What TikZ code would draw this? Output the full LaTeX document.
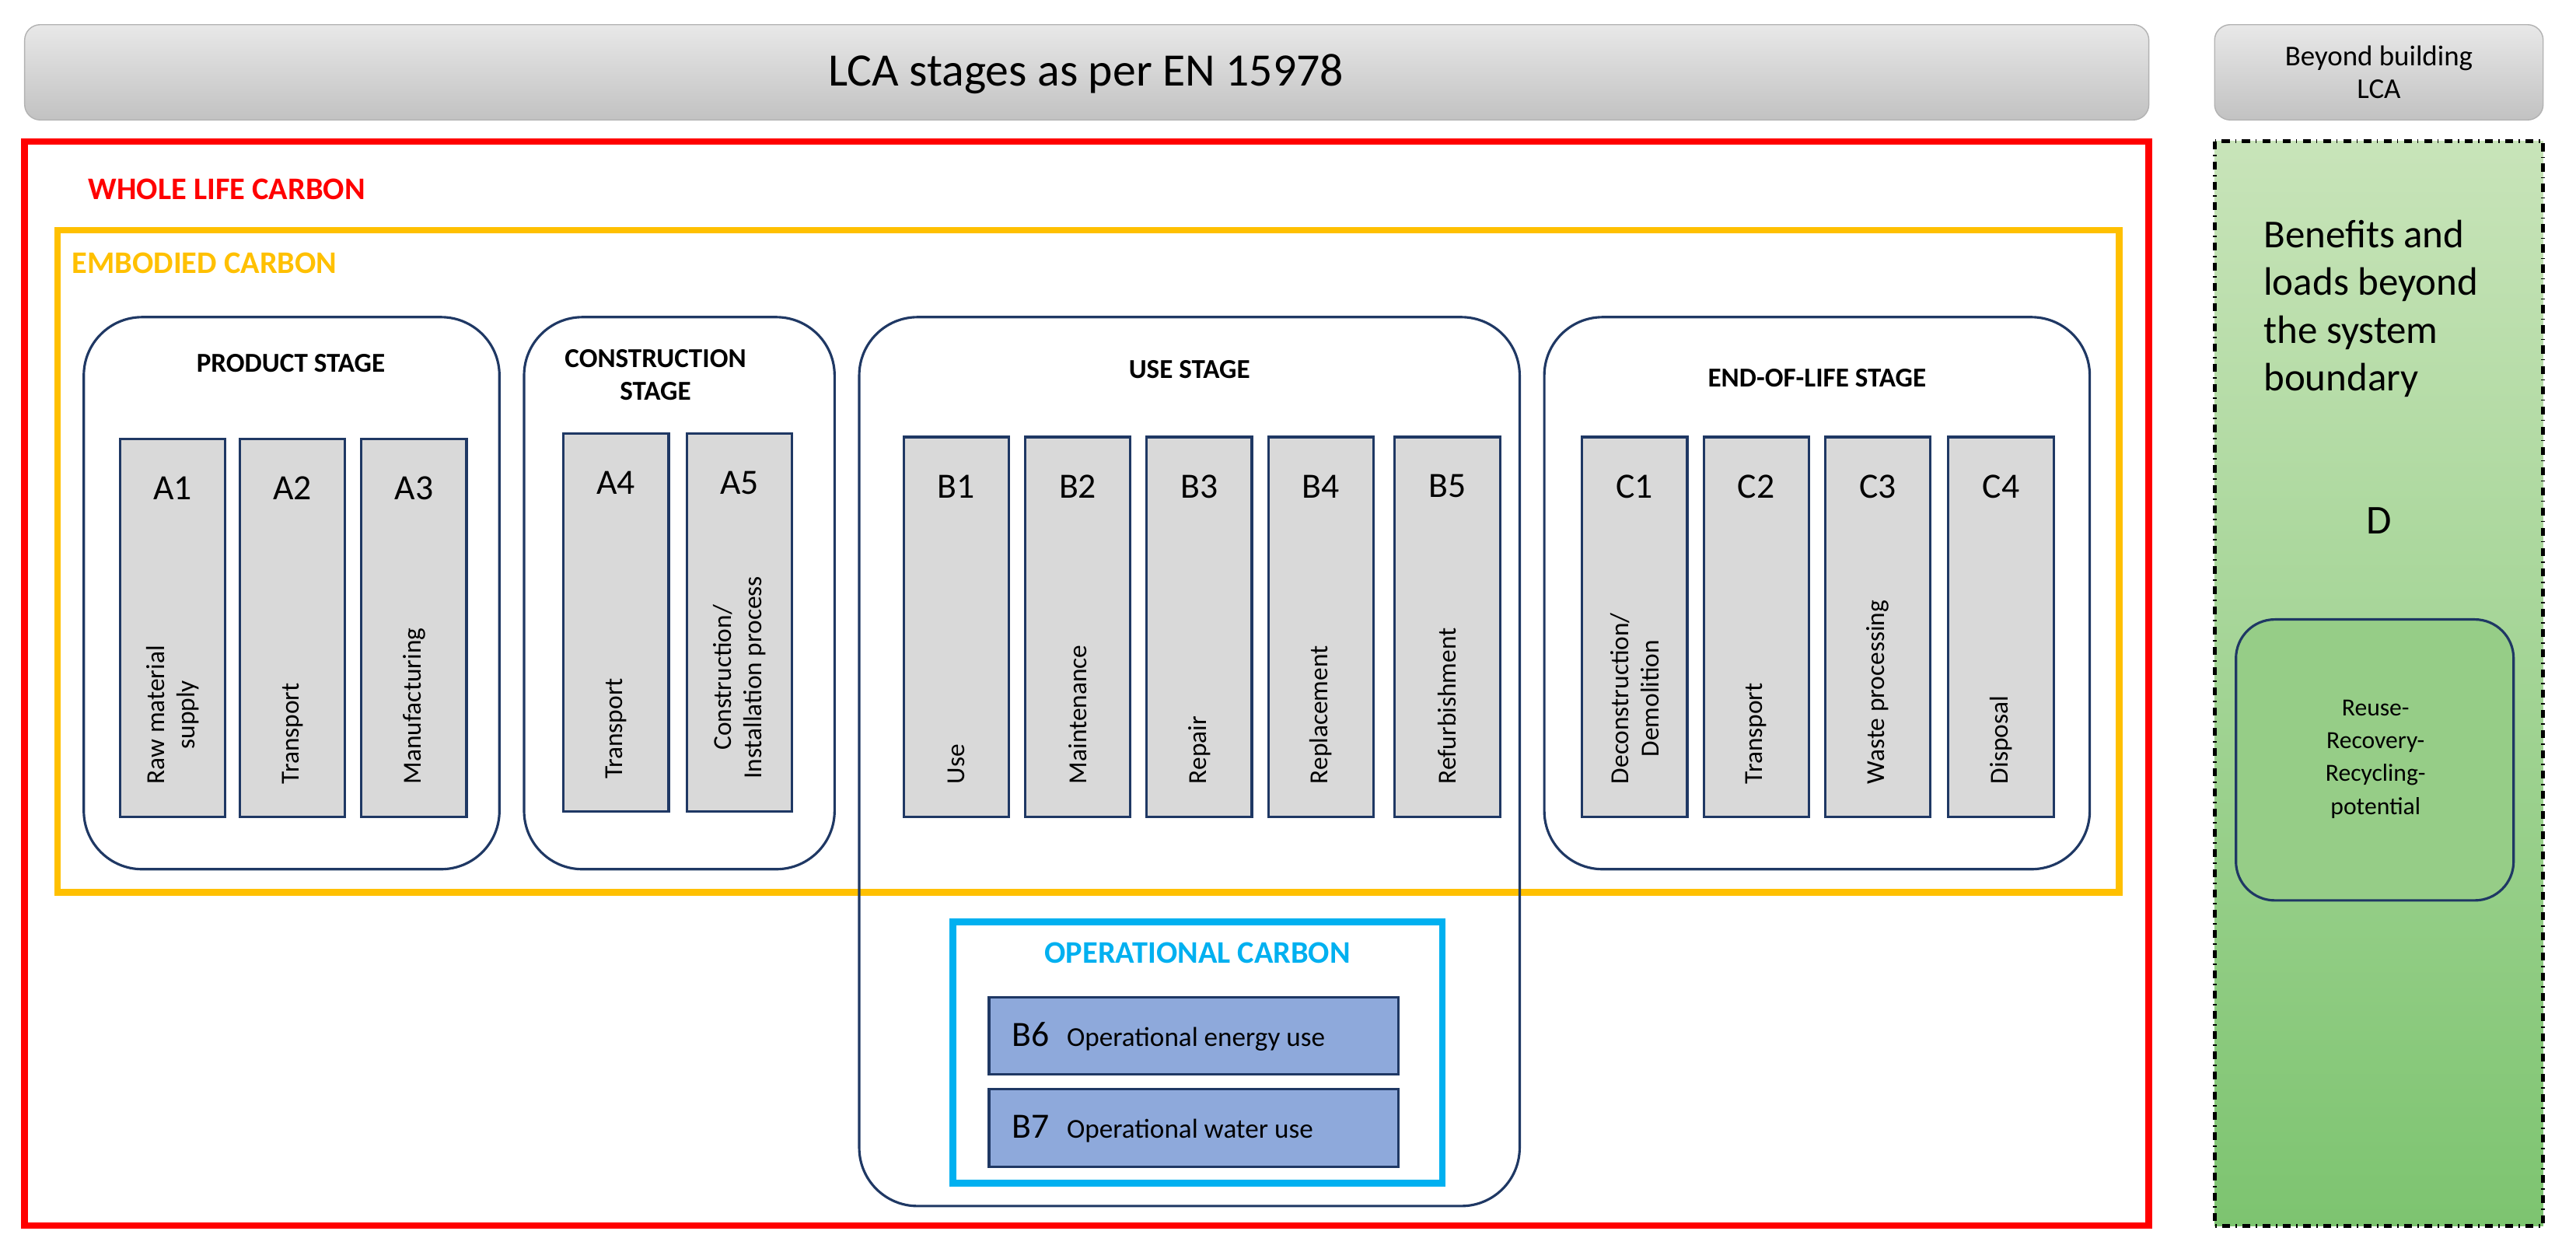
\documentclass[tikz,border=0pt]{standalone}
\usepackage{fontspec}
\setmainfont{Carlito}
\definecolor{frame}{RGB}{31,56,100}
\definecolor{cellgray}{RGB}{217,217,217}
\definecolor{bluecell}{RGB}{142,169,219}
\definecolor{wlc}{RGB}{255,0,0}
\definecolor{ec}{RGB}{255,192,0}
\definecolor{oc}{RGB}{0,176,240}
\tikzset{
  stagebox/.style={draw=frame, line width=0.9pt, rounded corners=0.75cm},
  cell/.style={draw=frame, line width=0.9pt, fill=cellgray},
  cellid/.style={font=\fontsize{13}{13}\selectfont},
  celltext/.style={rotate=90, anchor=west, align=center, font=\fontsize{9.5}{11}\selectfont},
  stagetitle/.style={font=\bfseries\fontsize{10}{12}\selectfont, align=center},
  header/.style={draw=gray!60, rounded corners=0.2cm, top color=gray!18, bottom color=gray!48}
}
\begin{document}
\begin{tikzpicture}[x=0.02113cm, y=-0.02113cm]
  \useasboundingbox (0,0) rectangle (1568,766);
  % headers
  \draw[header] (15,15) rectangle (1308,73);
  \node (lcahead) at (661,45) {\fontsize{17}{17}\selectfont LCA stages as per EN 15978};
  \draw[header] (1348,15) rectangle (1548,73);
  \node[align=center, font=\fontsize{10.5}{12}\selectfont] (beyondhead) at (1448,44) {Beyond building\\LCA};
  % module D
  \draw[dash dot, line width=1.4pt, top color={rgb,255:red,200;green,228;blue,185}, bottom color={rgb,255:red,125;green,196;blue,112}] (1348,86) rectangle (1548,746);
  \node[align=left, anchor=north west, font=\fontsize{14.5}{17.5}\selectfont] (benefits) at (1372,128) {Benefits and\\loads beyond\\the system\\boundary};
  \node[font=\fontsize{15}{15}\selectfont] (modd) at (1448,317) {D};
  \draw[stagebox, rounded corners=0.5cm, fill={rgb,255:red,150;green,205;blue,135}] (1361,377) rectangle (1530,548);
  \node[align=center, font=\fontsize{9}{12}\selectfont] (reuse) at (1446,462) {Reuse-\\Recovery-\\Recycling-\\potential};
  % carbon boundaries
  \draw[wlc, line width=2.4pt] (15,86) rectangle (1308,746);
  \node[wlc, anchor=west, font=\bfseries\fontsize{11.5}{12}\selectfont] (wlctext) at (48,115) {WHOLE LIFE CARBON};
  \draw[ec, line width=2.4pt] (35,140) rectangle (1290,543);
  \node[ec, anchor=west, font=\bfseries\fontsize{11.5}{12}\selectfont] (ectext) at (38,160) {EMBODIED CARBON};
  % stages
  \draw[stagebox] (51,193) rectangle (304,529);
  \node[stagetitle] (prod) at (177,221) {PRODUCT STAGE};
  \draw[stagebox] (319,193) rectangle (508,529);
  \node[stagetitle] (constr) at (399,228) {CONSTRUCTION\\STAGE};
  \draw[stagebox] (523,193) rectangle (925,734);
  \node[stagetitle] (use) at (724,225) {USE STAGE};
  \draw[stagebox] (940,193) rectangle (1272,529);
  \node[stagetitle] (eol) at (1106,230) {END-OF-LIFE STAGE};
  % modules
  \foreach \xa/\ya/\yb/\id/\txt in {
      73/267/497/A1/{Raw material\\supply}, 146/267/497/A2/Transport, 220/267/497/A3/Manufacturing,
      343/264/494/A4/Transport, 418/264/494/A5/{Construction/\\Installation process},
      550/266/497/B1/Use, 624/266/497/B2/Maintenance, 698/266/497/B3/Repair,
      772/266/497/B4/Replacement, 849/266/497/B5/Refurbishment,
      963/266/497/C1/{Deconstruction/\\Demolition}, 1037/266/497/C2/Transport,
      1111/266/497/C3/{Waste processing}, 1186/266/497/C4/Disposal} {
    \draw[cell] (\xa,\ya) rectangle ++(64,\yb-\ya);
    \node[cellid] (\id) at (\xa+32,\ya+30) {\id};
    \node[celltext] (\id-t) at (\xa+32,\yb-14) {\txt};
  }
  % operational carbon
  \draw[oc, line width=2.4pt] (580,561) rectangle (878,720);
  \node[oc, font=\bfseries\fontsize{11.5}{12}\selectfont] (octext) at (729,580) {OPERATIONAL CARBON};
  \draw[cell, fill=bluecell] (602,607) rectangle (851,654);
  \node[anchor=west] (B6) at (610,631) {\fontsize{13}{13}\selectfont B6\hspace{0.5em}\fontsize{10}{11}\selectfont Operational energy use};
  \draw[cell, fill=bluecell] (602,663) rectangle (851,710);
  \node[anchor=west] (B7) at (610,687) {\fontsize{13}{13}\selectfont B7\hspace{0.5em}\fontsize{10}{11}\selectfont Operational water use};
\end{tikzpicture}
\end{document}
